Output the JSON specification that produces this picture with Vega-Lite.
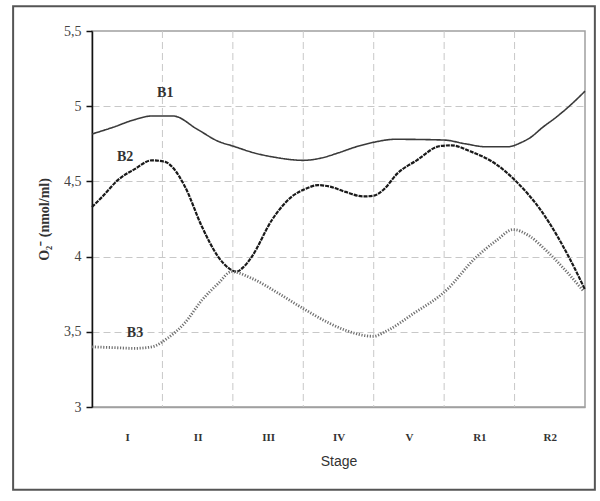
{
  "$schema": "https://vega.github.io/schema/vega-lite/v6.json",
  "width": 493,
  "height": 376,
  "autosize": "none",
  "padding": {"left": 92, "top": 31, "right": 15, "bottom": 94},
  "background": "white",
  "config": {
    "view": {"stroke": "#a0a0a0", "strokeWidth": 1.5},
    "font": "Liberation Serif"
  },
  "datasets": {
    "curves": [
      {"series": "B1", "stage": 0, "value": 4.815},
      {"series": "B1", "stage": 0.3, "value": 4.86},
      {"series": "B1", "stage": 0.6, "value": 4.91},
      {"series": "B1", "stage": 0.85, "value": 4.935},
      {"series": "B1", "stage": 1.15, "value": 4.935},
      {"series": "B1", "stage": 1.5, "value": 4.845},
      {"series": "B1", "stage": 1.8, "value": 4.765},
      {"series": "B1", "stage": 2.0, "value": 4.735},
      {"series": "B1", "stage": 2.3, "value": 4.69},
      {"series": "B1", "stage": 2.6, "value": 4.66},
      {"series": "B1", "stage": 3.0, "value": 4.64},
      {"series": "B1", "stage": 3.25, "value": 4.655},
      {"series": "B1", "stage": 3.5, "value": 4.69},
      {"series": "B1", "stage": 3.75, "value": 4.73},
      {"series": "B1", "stage": 4.0, "value": 4.76},
      {"series": "B1", "stage": 4.3, "value": 4.78},
      {"series": "B1", "stage": 5.0, "value": 4.775},
      {"series": "B1", "stage": 5.3, "value": 4.75},
      {"series": "B1", "stage": 5.6, "value": 4.73},
      {"series": "B1", "stage": 5.9, "value": 4.73},
      {"series": "B1", "stage": 6.1, "value": 4.76},
      {"series": "B1", "stage": 6.22, "value": 4.79},
      {"series": "B1", "stage": 6.4, "value": 4.86},
      {"series": "B1", "stage": 6.6, "value": 4.93},
      {"series": "B1", "stage": 6.8, "value": 5.01},
      {"series": "B1", "stage": 7.0, "value": 5.1},
      {"series": "B2", "stage": 0, "value": 4.33},
      {"series": "B2", "stage": 0.15, "value": 4.4},
      {"series": "B2", "stage": 0.37, "value": 4.51},
      {"series": "B2", "stage": 0.6, "value": 4.58},
      {"series": "B2", "stage": 0.85, "value": 4.64},
      {"series": "B2", "stage": 1.04, "value": 4.63},
      {"series": "B2", "stage": 1.15, "value": 4.59},
      {"series": "B2", "stage": 1.32, "value": 4.465},
      {"series": "B2", "stage": 1.56, "value": 4.2},
      {"series": "B2", "stage": 1.79, "value": 4.0},
      {"series": "B2", "stage": 1.95, "value": 3.92},
      {"series": "B2", "stage": 2.05, "value": 3.9},
      {"series": "B2", "stage": 2.15, "value": 3.93},
      {"series": "B2", "stage": 2.27, "value": 4.0},
      {"series": "B2", "stage": 2.55, "value": 4.24},
      {"series": "B2", "stage": 2.84, "value": 4.4},
      {"series": "B2", "stage": 3.03, "value": 4.45},
      {"series": "B2", "stage": 3.21, "value": 4.475},
      {"series": "B2", "stage": 3.38, "value": 4.465},
      {"series": "B2", "stage": 3.6, "value": 4.43},
      {"series": "B2", "stage": 3.85, "value": 4.4},
      {"series": "B2", "stage": 4.0, "value": 4.405},
      {"series": "B2", "stage": 4.15, "value": 4.45},
      {"series": "B2", "stage": 4.33, "value": 4.55},
      {"series": "B2", "stage": 4.61, "value": 4.64},
      {"series": "B2", "stage": 4.94, "value": 4.735},
      {"series": "B2", "stage": 5.1, "value": 4.74},
      {"series": "B2", "stage": 5.37, "value": 4.7},
      {"series": "B2", "stage": 5.75, "value": 4.61},
      {"series": "B2", "stage": 6.0, "value": 4.51},
      {"series": "B2", "stage": 6.4, "value": 4.29},
      {"series": "B2", "stage": 6.79, "value": 3.98},
      {"series": "B2", "stage": 7.0, "value": 3.78},
      {"series": "B3", "stage": 0, "value": 3.4},
      {"series": "B3", "stage": 0.3, "value": 3.395},
      {"series": "B3", "stage": 0.6, "value": 3.39},
      {"series": "B3", "stage": 0.85, "value": 3.4},
      {"series": "B3", "stage": 1.08, "value": 3.46},
      {"series": "B3", "stage": 1.32, "value": 3.56},
      {"series": "B3", "stage": 1.56, "value": 3.71},
      {"series": "B3", "stage": 1.79, "value": 3.82},
      {"series": "B3", "stage": 1.98, "value": 3.9},
      {"series": "B3", "stage": 2.27, "value": 3.855},
      {"series": "B3", "stage": 2.65, "value": 3.755},
      {"series": "B3", "stage": 2.98, "value": 3.66},
      {"series": "B3", "stage": 3.38, "value": 3.555},
      {"series": "B3", "stage": 3.6, "value": 3.51},
      {"series": "B3", "stage": 3.99, "value": 3.47},
      {"series": "B3", "stage": 4.2, "value": 3.51},
      {"series": "B3", "stage": 4.56, "value": 3.62},
      {"series": "B3", "stage": 5.04, "value": 3.78},
      {"series": "B3", "stage": 5.42, "value": 3.98},
      {"series": "B3", "stage": 5.75, "value": 4.11},
      {"series": "B3", "stage": 5.98, "value": 4.18},
      {"series": "B3", "stage": 6.2, "value": 4.14},
      {"series": "B3", "stage": 6.45, "value": 4.04},
      {"series": "B3", "stage": 6.7, "value": 3.92},
      {"series": "B3", "stage": 6.98, "value": 3.77}
    ],
    "labels": [
      {"series": "B1", "stage": 1.04, "value": 5.09},
      {"series": "B2", "stage": 0.47, "value": 4.66},
      {"series": "B3", "stage": 0.61, "value": 3.49}
    ],
    "boundaries": [
      {"edge": 1}, {"edge": 2}, {"edge": 3}, {"edge": 4}, {"edge": 5}, {"edge": 6}
    ],
    "frame": [{"name": "frame"}]
  },
  "layer": [
    {
      "data": {"name": "frame"},
      "mark": {"type": "rect", "fill": "transparent", "stroke": "#555", "strokeWidth": 2, "clip": false},
      "encoding": {
        "x": {"datum": -1.12, "type": "quantitative"},
        "x2": {"datum": 7.14},
        "y": {"datum": 5.665, "type": "quantitative"},
        "y2": {"datum": 2.45}
      }
    },
    {
      "data": {"name": "boundaries"},
      "mark": {"type": "rule", "color": "#c8c8c8", "strokeWidth": 1, "strokeDash": [7, 4]},
      "encoding": {
        "x": {"field": "edge", "type": "quantitative"}
      }
    },
    {
      "data": {"name": "curves"},
      "mark": {"type": "line", "interpolate": "monotone"},
      "encoding": {
        "x": {
          "field": "stage",
          "type": "quantitative",
          "scale": {"domain": [0, 7], "nice": false, "zero": false},
          "axis": {
            "title": "Stage",
            "titleFont": "Liberation Sans",
            "titleFontSize": 14,
            "titleFontWeight": "normal",
            "titleColor": "#333",
            "titlePadding": 12,
            "values": [0.5, 1.5, 2.5, 3.5, 4.5, 5.5, 6.5],
            "labelExpr": "datum.value == 0.5 ? 'I' : datum.value == 1.5 ? 'II' : datum.value == 2.5 ? 'III' : datum.value == 3.5 ? 'IV' : datum.value == 4.5 ? 'V' : datum.value == 5.5 ? 'R1' : datum.value == 6.5 ? 'R2' : ''",
            "labelFont": "Liberation Serif",
            "labelFontWeight": "bold",
            "labelFontSize": 11,
            "labelColor": "#333",
            "labelOverlap": false,
            "labelFlush": false,
            "labelPadding": 24,
            "ticks": false,
            "tickSize": 0,
            "domain": true,
            "domainColor": "#a0a0a0",
            "domainWidth": 1.5,
            "grid": false
          }
        },
        "y": {
          "field": "value",
          "type": "quantitative",
          "scale": {"domain": [3, 5.5], "nice": false, "zero": false},
          "axis": {
            "title": "O₂⁻   (nmol/ml)",
            "titleFont": "Liberation Serif",
            "titleFontSize": 14,
            "titleFontWeight": "bold",
            "titleColor": "#333",
            "titlePadding": 12,
            "values": [3, 3.5, 4, 4.5, 5, 5.5],
            "labelExpr": "replace(format(datum.value, '~g'), '.', ',')",
            "labelFont": "Liberation Serif",
            "labelFontSize": 14,
            "labelColor": "#444",
            "labelPadding": 5,
            "ticks": true,
            "tickColor": "#111",
            "tickSize": 6,
            "tickWidth": 1.5,
            "domain": true,
            "domainColor": "#111",
            "domainWidth": 1.5,
            "grid": true,
            "gridColor": "#c8c8c8",
            "gridDash": [7, 4],
            "gridWidth": 1,
            "gridOpacity": {"condition": {"test": "datum.value > 3 && datum.value < 5.5", "value": 1}, "value": 0}
          }
        },
        "detail": {"field": "series", "type": "nominal"},
        "color": {
          "field": "series",
          "type": "nominal",
          "scale": {"domain": ["B1", "B2", "B3"], "range": ["#3a3a3a", "#1a1a1a", "#707070"]},
          "legend": null
        },
        "strokeWidth": {
          "field": "series",
          "type": "nominal",
          "scale": {"domain": ["B1", "B2", "B3"], "range": [1.6, 2.8, 1.8]},
          "legend": null
        },
        "strokeDash": {
          "field": "series",
          "type": "nominal",
          "scale": {"domain": ["B1", "B2", "B3"], "range": [[1, 0], [4, 1], [1.2, 1.6]]},
          "legend": null
        }
      }
    },
    {
      "data": {"name": "labels"},
      "mark": {"type": "text", "font": "Liberation Serif", "fontWeight": "bold", "fontSize": 14, "color": "#333"},
      "encoding": {
        "x": {"field": "stage", "type": "quantitative"},
        "y": {"field": "value", "type": "quantitative"},
        "text": {"field": "series"}
      }
    }
  ]
}
